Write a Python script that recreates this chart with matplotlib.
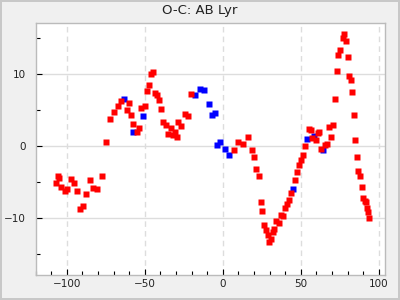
import matplotlib
matplotlib.use("Agg")
import matplotlib.pyplot as plt
from matplotlib.ticker import MultipleLocator

# O-C values, red series
red_x = [-105.7, -105.0, -107.0, -103.8, -101.2, -99.9, -97.4, -95.2, -93.5, -87.8,
         -89.7, -91.6, -85.2, -83.3, -80.8, -77.6, -75.0, -72.5, -69.9, -67.3,
         -65.4, -60.3, -61.6, -59.0, -57.8, -53.9, -55.2, -52.7, -50.1, -48.8,
         -47.5, -46.3, -45.0, -43.7, -42.4, -41.2, -39.9, -38.1, -36.7, -33.5,
         -34.8, -32.2, -30.9, -29.6, -28.4, -27.1, -24.5, -22.6, -20.1, 7.4,
         10.0, 13.2, 16.4, 18.9, 20.2, 21.5, 23.4, 24.7, 25.3, 26.6,
         27.9, 29.1, 29.8, 31.1, 32.3, 33.0, 34.2, 36.2, 37.4, 38.7,
         40.0, 41.3, 42.6, 43.8, 46.4, 47.7, 49.0, 50.2, 51.5, 52.8,
         55.3, 56.6, 57.3, 59.8, 61.1, 62.0, 63.0, 65.6, 66.8, 68.1,
         69.4, 70.7, 72.0, 73.2, 73.9, 75.1, 77.1, 77.7, 79.0, 80.3,
         80.9, 82.2, 82.8, 84.1, 84.7, 86.0, 86.6, 87.9, 89.2, 89.8,
         91.1, 91.8, 92.4, 93.0, 93.7]
red_y = [-4.2, -4.5, -5.2, -5.8, -6.3, -6.0, -4.6, -5.2, -6.3, -6.8,
         -8.4, -8.8, -4.8, -5.9, -6.0, -4.3, 0.5, 3.7, 4.7, 5.5,
         6.2, 5.9, 5.0, 4.3, 3.0, 2.5, 1.9, 5.2, 5.5, 7.6,
         8.4, 10.0, 10.2, 7.3, 7.0, 6.3, 5.1, 3.2, 2.9, 2.5,
         1.6, 1.5, 1.9, 1.2, 3.2, 2.7, 4.4, 4.1, 7.2, -0.6,
         0.5, 0.2, 1.2, -0.6, -1.6, -3.2, -4.3, -7.8, -9.1, -11.0,
         -11.8, -12.4, -13.4, -13.0, -12.0, -11.6, -10.5, -10.7, -9.6, -9.8,
         -8.7, -8.1, -7.5, -6.6, -4.8, -3.7, -2.7, -2.0, -1.3, 0.0,
         2.3, 2.2, 1.1, 0.8, 1.8, 1.9, -0.5, 0.1, 0.2, 2.6,
         1.2, 2.9, 6.5, 10.4, 12.6, 13.3, 15.0, 15.5, 14.5, 12.3,
         9.7, 9.1, 7.5, 4.3, 0.8, -1.6, -3.5, -4.2, -5.7, -7.3,
         -7.7, -7.8, -8.7, -9.2, -10.0]

# blue series
blue_x = [-63.5, -57.3, -51.4, -17.5, -14.3, -11.8, -8.6, -6.6, -4.7, -3.5,
          -1.5, 1.7, 4.2, 45.1, 54.1, 58.5, 64.3]
blue_y = [6.5, 1.9, 4.1, 7.0, 7.9, 7.7, 5.7, 4.3, 4.5, 0.1,
          0.5, -0.5, -1.3, -6.0, 0.9, 1.3, -0.6]

fig = plt.figure(figsize=(4, 3), dpi=100)
fig.patch.set_facecolor("#f0f0f0")
fig.patch.set_edgecolor("#c8c8c8")
fig.patch.set_linewidth(1.5)
ax = fig.add_axes([0.089, 0.083, 0.8735, 0.84])
ax.set_facecolor("white")

ax.plot(blue_x, blue_y, "s", color="#0000ff", ms=4.3, mec="none", zorder=3)
ax.plot(red_x, red_y, "s", color="#ff0000", ms=4.3, mec="none", zorder=4)

ax.set_xlim(-120, 104)
ax.set_ylim(-18, 17)
ax.xaxis.set_major_locator(MultipleLocator(50))
ax.xaxis.set_minor_locator(MultipleLocator(10))
ax.yaxis.set_major_locator(MultipleLocator(10))
ax.yaxis.set_minor_locator(MultipleLocator(5))

ax.grid(True, axis="x", which="major", color="#dddddd", linestyle=(0, (4, 3)), linewidth=1)
ax.grid(True, axis="y", which="major", color="#dddddd", linestyle="-", linewidth=1)
ax.set_axisbelow(True)

ax.tick_params(which="both", direction="in", top=False, right=False,
               labelsize=7.5, colors="black", labelcolor="#222222")
ax.tick_params(which="major", length=4, width=0.8)
ax.tick_params(which="minor", length=3, width=0.8)
ax.tick_params(axis="x", pad=3)
ax.tick_params(axis="y", pad=7)

for s in ax.spines.values():
    s.set_color("#bbbbbb")
    s.set_linewidth(1)

# title centred on the figure, not the axes
fig.text(0.5, 0.965, "O-C: AB Lyr", fontsize=9.5, color="#222222", ha="center", va="center")

fig.savefig("out.png", dpi=100, facecolor=fig.get_facecolor(), edgecolor=fig.get_edgecolor())
